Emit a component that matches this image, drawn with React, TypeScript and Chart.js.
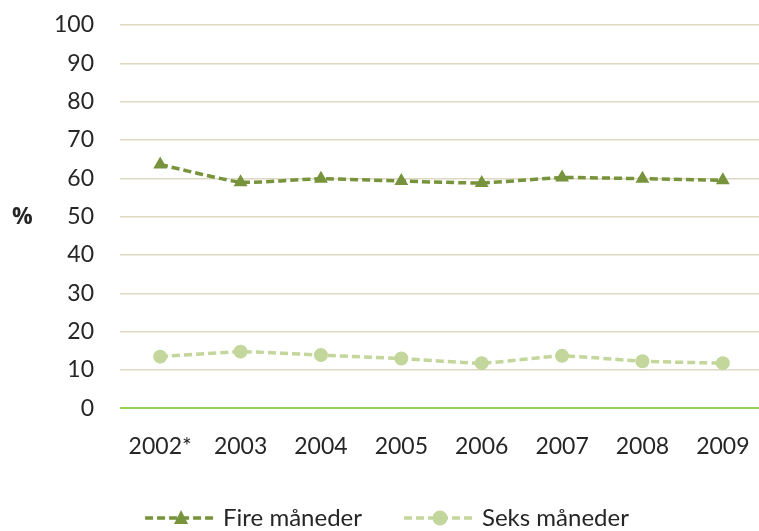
import React, { useEffect, useRef } from "react";
import { Chart, registerables } from "chart.js";

Chart.register(...registerables);

const categories = ["2002*", "2003", "2004", "2005", "2006", "2007", "2008", "2009"];
const fireManeder = [63.6, 59.0, 59.9, 59.3, 58.8, 60.2, 59.9, 59.5];
const seksManeder = [13.5, 14.8, 13.9, 13.0, 11.8, 13.7, 12.3, 11.8];
const seriesNames = ["Fire måneder", "Seks måneder"];
const yTicks = [0, 10, 20, 30, 40, 50, 60, 70, 80, 90, 100];

const FIRE = "#77933C";
const SEKS = "#C3D69B";
const GRID = "#DDD9C3";
const ZERO = "#92D050";
const TEXT = "#262626";
const FONT = "Lato, 'Open Sans', sans-serif";

const percentLabel = {
  id: "percentLabel",
  afterDraw(chart: any) {
    const { ctx } = chart;
    const y = chart.scales.y;
    ctx.save();
    ctx.font = `bold 23px 'Open Sans', 'DejaVu Sans', sans-serif`;
    ctx.fillStyle = TEXT;
    ctx.textAlign = "left";
    ctx.textBaseline = "middle";
    ctx.fillText("%", 12, y.getPixelForValue(50) + 1);
    ctx.restore();
  },
};

const customLegend = {
  id: "customLegend",
  afterDraw(chart: any) {
    const { ctx } = chart;
    const ds = chart.data.datasets;
    const iconW = 72;
    const textGap = 6;
    const itemGap = 42;
    ctx.save();
    ctx.font = `24px ${FONT}`;
    const widths = ds.map((d: any) => iconW + textGap + ctx.measureText(d.label).width);
    const total = widths.reduce((a: number, b: number) => a + b, 0) + itemGap * (ds.length - 1);
    let x = (chart.width - total) / 2;
    const y = chart.height - 13;
    ds.forEach((d: any, i: number) => {
      const color = d.borderColor;
      ctx.strokeStyle = color;
      ctx.lineWidth = 3.5;
      ctx.setLineDash([8, 4]);
      ctx.beginPath();
      ctx.moveTo(x, y);
      ctx.lineTo(x + iconW, y);
      ctx.stroke();
      ctx.setLineDash([]);
      ctx.fillStyle = color;
      ctx.beginPath();
      const cx = x + iconW / 2;
      if (d.pointStyle === "triangle") {
        ctx.moveTo(cx, y - 8);
        ctx.lineTo(cx + 7, y + 6);
        ctx.lineTo(cx - 7, y + 6);
        ctx.closePath();
      } else {
        ctx.arc(cx, y, 7.5, 0, Math.PI * 2);
      }
      ctx.fill();
      ctx.fillStyle = TEXT;
      ctx.textAlign = "left";
      ctx.textBaseline = "middle";
      ctx.fillText(d.label, x + iconW + textGap, y);
      x += widths[i] + itemGap;
    });
    ctx.restore();
  },
};

export default function App() {
  const ref = useRef<HTMLCanvasElement | null>(null);
  useEffect(() => {
    if (!ref.current) return;
    const chart = new Chart(ref.current, {
      type: "line",
      data: {
        labels: categories,
        datasets: [
          {
            label: seriesNames[0],
            data: fireManeder,
            borderColor: FIRE,
            backgroundColor: FIRE,
            borderWidth: 3.5,
            borderDash: [8, 4],
            pointStyle: "triangle",
            pointRadius: 8,
            pointBorderWidth: 0,
            tension: 0.15,
          },
          {
            label: seriesNames[1],
            data: seksManeder,
            borderColor: SEKS,
            backgroundColor: SEKS,
            borderWidth: 3.5,
            borderDash: [8, 4],
            pointStyle: "circle",
            pointRadius: 7,
            pointBorderWidth: 0,
            tension: 0.15,
          },
        ],
      },
      options: {
        animation: false,
        responsive: false,
        maintainAspectRatio: false,
        layout: { padding: { top: 25, left: 0, right: 0, bottom: 47 } },
        plugins: {
          tooltip: { enabled: false },
          legend: { display: false },
        },
        scales: {
          x: {
            offset: true,
            grid: { display: false, drawTicks: false },
            border: { display: false },
            ticks: { color: TEXT, font: { family: FONT, size: 23 }, padding: 24, maxRotation: 0 },
          },
          y: {
            min: 0,
            max: 100,
            afterFit: (s: any) => {
              s.width = 120;
              s.paddingTop = 0;
              s.paddingBottom = 0;
            },
            afterBuildTicks: (s: any) => {
              s.ticks = yTicks.map((v) => ({ value: v }));
            },
            grid: {
              drawTicks: false,
              lineWidth: (c: any) => (c.tick && c.tick.value === 0 ? 2 : 1.5),
              color: (c: any) => (c.tick && c.tick.value === 0 ? ZERO : GRID),
            },
            border: { display: false },
            ticks: { color: TEXT, font: { family: FONT, size: 23 }, padding: 26 },
          },
        },
      },
      plugins: [percentLabel, customLegend],
    });
    return () => chart.destroy();
  }, []);
  return (
    <div style={{ position: "fixed", left: 0, top: 0, width: 774, height: 531, overflow: "hidden", background: "#fff" }}>
      <canvas ref={ref} width={774} height={531} style={{ display: "block" }} />
    </div>
  );
}
